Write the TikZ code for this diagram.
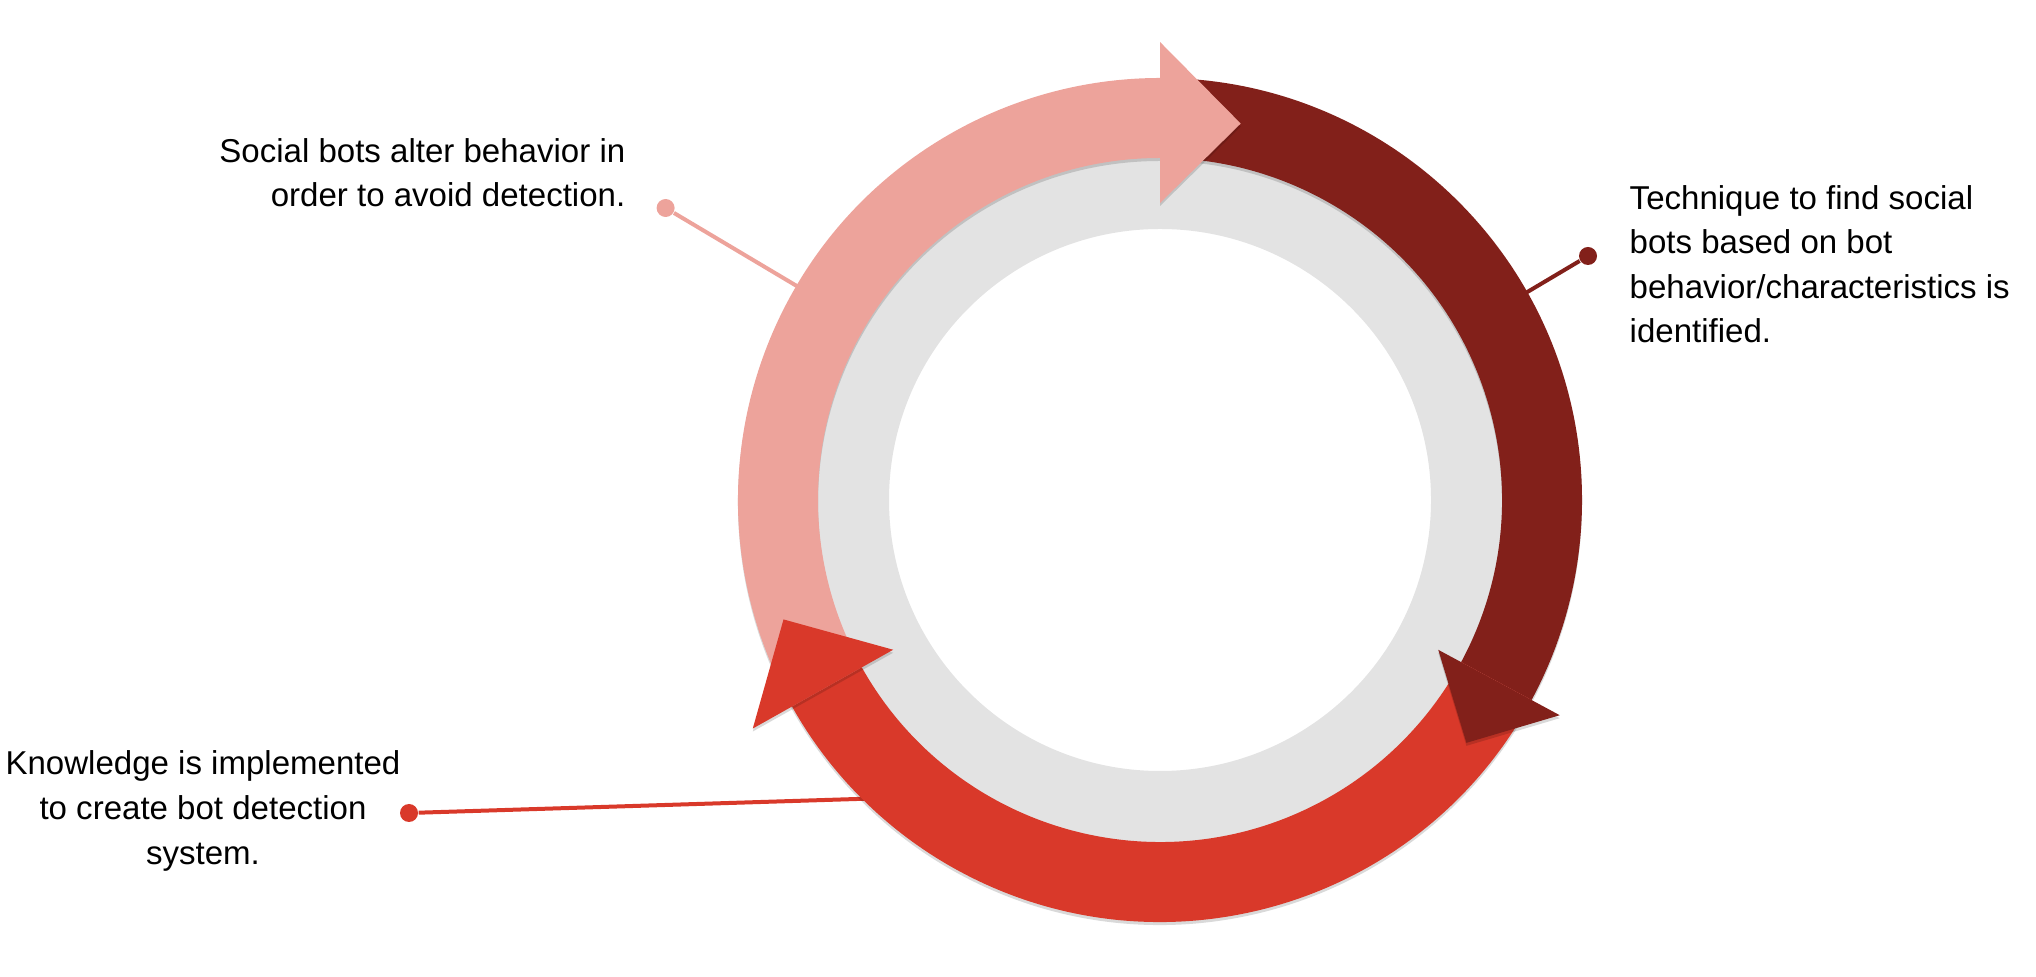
\documentclass[tikz,border=0pt]{standalone}
\usepackage{fontspec}
\setmainfont{Liberation Sans}
\usetikzlibrary{shadows}
\definecolor{ringgray}{HTML}{E3E3E3}
\definecolor{botpink}{HTML}{EDA39B}
\definecolor{botdark}{HTML}{82201A}
\definecolor{botred}{HTML}{D9392A}

\begin{document}
\begin{tikzpicture}[
lbl/.style={inner sep=0pt,font=\fontsize{9.4}{12.7}\selectfont},
dot/.style={circle,inner sep=0pt,minimum size=0.18cm},
lead/.style={line width=0.04cm},
shd/.style={drop shadow={shadow xshift=0cm,shadow yshift=-0.03cm,opacity=0.15,fill=black}}
]
\useasboundingbox (0,0) rectangle (20.36,9.76);

% labels (base = last line)
\node[lbl,align=right,anchor=base east] (alter) at (6.26,7.69) {Social bots alter behavior in\\order to avoid detection.};
\node[lbl,align=left,anchor=base west] (technique) at (16.29,6.33) {Technique to find social\\bots based on bot\\behavior/characteristics is\\identified.};
\node[lbl,align=center,anchor=base] (knowledge) at (2.03,1.12) {Knowledge is implemented\\to create bot detection\\system.};

\node[dot,fill=botpink] (alterdot) at (6.656,7.68) {};
\node[dot,fill=botdark] (techniquedot) at (15.88,7.20) {};
\node[dot,fill=botred] (knowledgedot) at (4.09,1.63) {};

\begin{scope}[shift={(11.6,4.76)}]
\coordinate (alterend) at (149.5:4.15);
\coordinate (techniqueend) at (29.5:4.15);
\coordinate (knowledgeend) at (226:4.15);
\end{scope}

\draw[lead,botpink] (alterdot) -- (alterend);
\draw[lead,botdark] (techniquedot) -- (techniqueend);
\draw[lead,botred] (knowledgedot) -- (knowledgeend);

\begin{scope}[shift={(11.6,4.76)}]
% gray ring
\fill[ringgray,even odd rule] (0,0) circle (3.45) (0,0) circle (2.71);
% bodies
\fill[botpink,shd] (209.3:4.22) arc[start angle=209.3,end angle=90,radius=4.22] -- (90:3.42) arc[start angle=90,end angle=209.3,radius=3.42] -- cycle;
\fill[botdark,shd] (90:4.22) arc[start angle=90,end angle=-28.3,radius=4.22] -- (-28.3:3.42) arc[start angle=-28.3,end angle=90,radius=3.42] -- cycle;
\fill[botred,shd] (-28.3:4.22) arc[start angle=-28.3,end angle=-150.7,radius=4.22] -- (-150.7:3.42) arc[start angle=-150.7,end angle=-28.3,radius=3.42] -- cycle;
% heads
\fill[botpink,shd] (90:4.58) -- (77.9:3.85) -- (90:2.97) -- cycle;
\fill[botdark,shd] (-28.3:4.54) -- (-38.4:3.91) -- (-28.3:3.16) -- cycle;
\fill[botred,shd] (209.3:4.67) -- (197.6:3.95) -- (209.3:3.06) -- cycle;
\end{scope}
\end{tikzpicture}
\end{document}
